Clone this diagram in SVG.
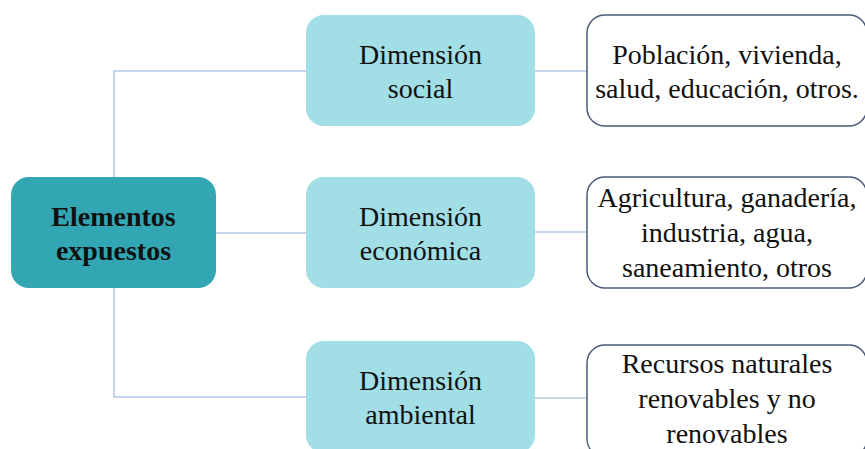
<svg xmlns="http://www.w3.org/2000/svg" width="865" height="449" viewBox="0 0 865 449">
<style>
.conn{fill:none;stroke:#B4C7E7;stroke-width:1.5}
.root{fill:#32A7B3}
.mid{fill:#A1DEE5}
.leaf{fill:#FFFFFF;stroke:#4B5B78;stroke-width:1.5}
text{font-family:"Liberation Serif","Times New Roman",serif;font-size:28px;fill:#111;text-anchor:middle}
.b{font-weight:bold}
</style>
<rect width="865" height="449" fill="#FFFFFF"/>
<g id="connectors">
<path class="conn" d="M114,177 V71 H306"/>
<path class="conn" d="M114,288 V397 H306"/>
<path class="conn" d="M216,233 H306"/>
<path class="conn" d="M535,71 H587"/>
<path class="conn" d="M535,232 H587"/>
<path class="conn" d="M535,398 H587"/>
</g>
<g id="root">
<rect class="root" x="11" y="177" width="205" height="111" rx="18"/>
<text class="b" x="113.5" y="226">Elementos</text>
<text class="b" x="113.5" y="260">expuestos</text>
</g>
<g id="social">
<rect class="mid" x="306" y="15" width="229" height="111" rx="18"/>
<text x="420.5" y="64">Dimensión</text>
<text x="420.5" y="98">social</text>
</g>
<g id="economica">
<rect class="mid" x="306" y="177" width="229" height="111" rx="18"/>
<text x="420.5" y="226">Dimensión</text>
<text x="420.5" y="260">económica</text>
</g>
<g id="ambiental">
<rect class="mid" x="306" y="341" width="229" height="112" rx="18"/>
<text x="420.5" y="390">Dimensión</text>
<text x="420.5" y="424">ambiental</text>
</g>
<g id="social-items">
<rect class="leaf" x="587" y="15" width="280" height="111" rx="18"/>
<text x="727" y="64">Población, vivienda,</text>
<text x="727" y="98">salud, educación, otros.</text>
</g>
<g id="economica-items">
<rect class="leaf" x="587" y="177" width="280" height="111" rx="18"/>
<text x="727" y="207">Agricultura, ganadería,</text>
<text x="727" y="242">industria, agua,</text>
<text x="727" y="277">saneamiento, otros</text>
</g>
<g id="ambiental-items">
<rect class="leaf" x="587" y="345" width="280" height="112" rx="18"/>
<text x="727" y="373">Recursos naturales</text>
<text x="727" y="408">renovables y no</text>
<text x="727" y="443">renovables</text>
</g>
</svg>
